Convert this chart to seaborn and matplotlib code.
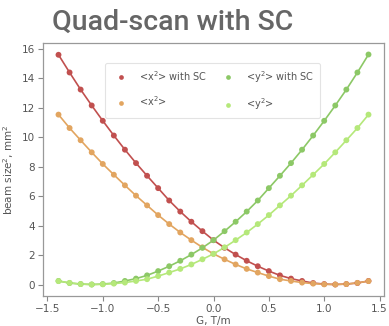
import numpy as np
import pandas as pd
import matplotlib
matplotlib.use("Agg")
import matplotlib.pyplot as plt
import seaborn as sns

G = [-1.4, -1.3, -1.2, -1.1, -1.0, -0.9, -0.8, -0.7, -0.6, -0.5, -0.4, -0.3, -0.2, -0.1, 0.0,
     0.1, 0.2, 0.3, 0.4, 0.5, 0.6, 0.7, 0.8, 0.9, 1.0, 1.1, 1.2, 1.3, 1.4]

x2_sc = [15.60, 14.40, 13.24, 12.16, 11.12, 10.12, 9.16, 8.25, 7.39, 6.55, 5.71, 4.96, 4.27, 3.63, 3.02,
         2.50, 2.04, 1.62, 1.25, 0.92, 0.63, 0.41, 0.25, 0.11, 0.04, 0.01, 0.04, 0.11, 0.25]
x2 = [11.54, 10.63, 9.80, 8.98, 8.19, 7.46, 6.74, 6.04, 5.38, 4.72, 4.11, 3.54, 3.02, 2.53, 2.09,
      1.72, 1.37, 1.07, 0.82, 0.58, 0.37, 0.25, 0.14, 0.07, 0.02, 0.01, 0.04, 0.12, 0.24]
y2_sc = [0.25, 0.11, 0.04, 0.01, 0.04, 0.11, 0.25, 0.41, 0.63, 0.92, 1.25, 1.62, 2.04, 2.50, 3.02,
         3.63, 4.27, 4.96, 5.71, 6.55, 7.39, 8.25, 9.16, 10.12, 11.12, 12.16, 13.24, 14.40, 15.62]
y2 = [0.24, 0.12, 0.04, 0.01, 0.02, 0.07, 0.14, 0.25, 0.37, 0.58, 0.82, 1.07, 1.37, 1.72, 2.09,
      2.53, 3.02, 3.54, 4.11, 4.72, 5.38, 6.04, 6.74, 7.46, 8.19, 8.98, 9.80, 10.63, 11.54]

labels = ["<x$^2$> with SC", "<x$^2$>", "<y$^2$> with SC", "<y$^2$>"]
colors = ["#c1504f", "#e2a560", "#8cc866", "#b5e87a"]
title = "Quad-scan with SC"
xlabel = "G, T/m"
ylabel = "beam size$^2$, mm$^2$"

series = [x2_sc, x2, y2_sc, y2]
df = pd.concat([pd.DataFrame({"G": G, "v": s, "series": lab}) for s, lab in zip(series, labels)],
               ignore_index=True)

sns.set_style("ticks")
plt.rcParams["font.family"] = ["DejaVu Sans"]
fig = plt.figure(figsize=(3.89, 3.26), dpi=100)
ax = fig.add_axes([43 / 389, 1 - 296 / 326, (384 - 43) / 389, (296 - 43) / 326])

pal = dict(zip(labels, colors))
sns.lineplot(data=df, x="G", y="v", hue="series", palette=pal, ax=ax, legend=False, linewidth=1.2)
sns.scatterplot(data=df, x="G", y="v", hue="series", palette=pal, ax=ax, s=18, linewidth=0, zorder=3)

tc = "#555555"
for sp in ax.spines.values():
    sp.set_color("#999999")
    sp.set_linewidth(0.9)
ax.tick_params(colors="#888888", labelcolor=tc, labelsize=7.5, length=3.5, width=0.8, pad=2.5)
ax.set_xlabel(xlabel, color=tc, fontsize=7.5, labelpad=1)
ax.set_ylabel(ylabel, color=tc, fontsize=7.5, labelpad=4)
ax.set_xticks([-1.5, -1.0, -0.5, 0.0, 0.5, 1.0, 1.5])
ax.set_yticks([0, 2, 4, 6, 8, 10, 12, 14, 16])

leg = ax.legend(loc="upper left", bbox_to_anchor=((105 - 43) / 341, 1 - 20 / 253), ncol=2, fontsize=7,
                frameon=True, labelspacing=1.2, columnspacing=1.1, handletextpad=0.9,
                borderpad=0.6, borderaxespad=0, markerscale=0.8)
leg.get_frame().set_edgecolor("#dddddd")
leg.get_frame().set_linewidth(0.8)
for t in leg.get_texts():
    t.set_color(tc)

fig.text(52 / 389, 1 - 22 / 326, title, fontsize=20.5, color="#666666", family="Roboto",
         fontweight="medium", ha="left", va="center")

fig.savefig("out.png", dpi=100)
